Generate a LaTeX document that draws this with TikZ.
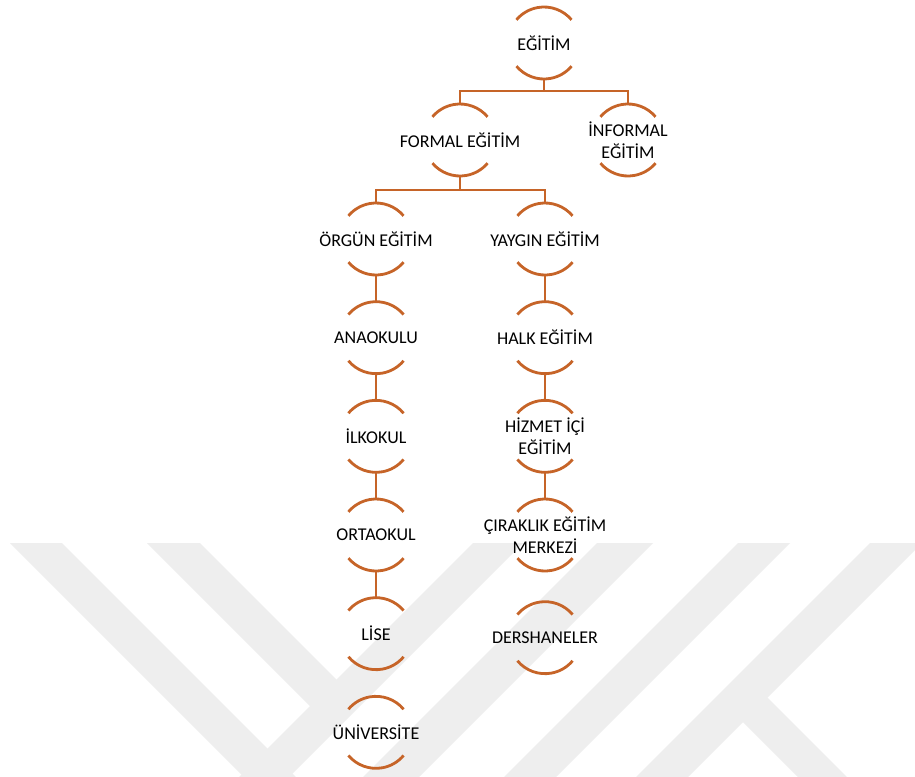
\documentclass[tikz,border=0pt]{standalone}
\usepackage{fontspec}
\setmainfont{Carlito}
\usepackage{xcolor}
\usetikzlibrary{positioning}

\definecolor{brn}{RGB}{198,100,40}
\definecolor{wmgray}{RGB}{238,238,238}

\begin{document}
\begin{tikzpicture}[x=0.75pt,y=0.75pt,node distance=20pt]
\tikzset{>=latex}

\tikzstyle{bubble} = [circle, minimum size=54pt, inner sep=0pt, outer sep=0pt]
\tikzstyle{txt}    = [font=\fontsize{13.5}{16.5}\selectfont, align=center,
                      text=black]
\tikzstyle{rim}    = [draw=brn, line width=2.1pt]
\tikzstyle{link}   = [draw=brn, line width=2.1pt]

\useasboundingbox (0,0) rectangle (915,-776);
\fill[white] (0,0) rectangle (915,-776);

% watermark in the background
\begin{scope}
\clip (0,0) rectangle (915,-776);
\fill[wmgray] (10,-543)  -- (62,-543)  -- (362,-843) -- (310,-843) -- cycle;
\fill[wmgray] (147,-543) -- (200,-543) -- (350,-693) -- (322,-718) -- cycle;
\fill[wmgray] (473,-543) -- (523,-543) -- (223,-843) -- (173,-843) -- cycle;
\fill[wmgray] (597,-543) -- (653,-543) -- (353,-843) -- (297,-843) -- cycle;
\fill[wmgray] (738,-543) -- (790,-543) -- (490,-843) -- (438,-843) -- cycle;
\fill[wmgray] (870,-543) -- (922,-543) -- (622,-843) -- (570,-843) -- cycle;
\fill[wmgray] (757,-687) -- (867,-797) -- (843,-822) -- (733,-712) -- cycle;
\end{scope}

\node[bubble,label={[txt]center:EĞİTİM}]                   (E)  at (544,-43)  {};
\node[bubble,label={[txt]center:FORMAL EĞİTİM}]            (FE) at (460,-140) {};
\node[bubble,label={[txt]center:{İNFORMAL\\EĞİTİM}}]       (IE) at (628,-140) {};
\node[bubble,label={[txt]center:ÖRGÜN EĞİTİM}]             (OE) at (376,-239) {};
\node[bubble,label={[txt]center:YAYGIN EĞİTİM}]            (YE) at (545,-239) {};
\node[bubble,below=of OE,label={[txt]center:ANAOKULU}]      (AO) {};
\node[bubble,below=of AO,label={[txt]center:İLKOKUL}]       (IO) {};
\node[bubble,below=of IO,label={[txt]center:ORTAOKUL}]      (OO) {};
\node[bubble,below=of OO,label={[txt]center:LİSE}]          (LI) {};
\node[bubble,below=of LI,label={[txt]center:ÜNİVERSİTE}]    (UN) {};
\node[bubble,below=of YE,label={[txt]center:HALK EĞİTİM}]   (HE) {};
\node[bubble,below=of HE,label={[txt]center:{HİZMET İÇİ\\EĞİTİM}}]        (HI) {};
\node[bubble,below=of HI,label={[txt]center:{ÇIRAKLIK EĞİTİM\\MERKEZİ}}]  (CM) {};
\node[bubble,below=23pt of CM,label={[txt]center:DERSHANELER}] (DH) {};

% half rims of the bubbles
\draw[rim] (E.40)  arc[start angle=40,end angle=140,radius=27pt] (E.220)  arc[start angle=220,end angle=320,radius=27pt];
\draw[rim] (FE.40) arc[start angle=40,end angle=140,radius=27pt] (FE.220) arc[start angle=220,end angle=320,radius=27pt];
\draw[rim] (IE.40) arc[start angle=40,end angle=140,radius=27pt] (IE.220) arc[start angle=220,end angle=320,radius=27pt];
\draw[rim] (OE.40) arc[start angle=40,end angle=140,radius=27pt] (OE.220) arc[start angle=220,end angle=320,radius=27pt];
\draw[rim] (YE.40) arc[start angle=40,end angle=140,radius=27pt] (YE.220) arc[start angle=220,end angle=320,radius=27pt];
\draw[rim] (AO.40) arc[start angle=40,end angle=140,radius=27pt] (AO.220) arc[start angle=220,end angle=320,radius=27pt];
\draw[rim] (IO.40) arc[start angle=40,end angle=140,radius=27pt] (IO.220) arc[start angle=220,end angle=320,radius=27pt];
\draw[rim] (OO.40) arc[start angle=40,end angle=140,radius=27pt] (OO.220) arc[start angle=220,end angle=320,radius=27pt];
\draw[rim] (LI.40) arc[start angle=40,end angle=140,radius=27pt] (LI.220) arc[start angle=220,end angle=320,radius=27pt];
\draw[rim] (UN.40) arc[start angle=40,end angle=140,radius=27pt] (UN.220) arc[start angle=220,end angle=320,radius=27pt];
\draw[rim] (HE.40) arc[start angle=40,end angle=140,radius=27pt] (HE.220) arc[start angle=220,end angle=320,radius=27pt];
\draw[rim] (HI.40) arc[start angle=40,end angle=140,radius=27pt] (HI.220) arc[start angle=220,end angle=320,radius=27pt];
\draw[rim] (CM.40) arc[start angle=40,end angle=140,radius=27pt] (CM.220) arc[start angle=220,end angle=320,radius=27pt];
\draw[rim] (DH.40) arc[start angle=40,end angle=140,radius=27pt] (DH.220) arc[start angle=220,end angle=320,radius=27pt];

\draw[link] (E.south)  -- ++(0,-12) -| (FE.north);
\draw[link] (E.south)  -- ++(0,-12) -| (IE.north);
\draw[link] (FE.south) -- ++(0,-14) -| (OE.north);
\draw[link] (FE.south) -- ++(0,-14) -| (YE.north);
\draw[link] (OE) -- (AO);
\draw[link] (AO) -- (IO);
\draw[link] (IO) -- (OO);
\draw[link] (OO) -- (LI);
\draw[link] (YE) -- (HE);
\draw[link] (HE) -- (HI);
\draw[link] (HI) -- (CM);

\end{tikzpicture}
\end{document}
